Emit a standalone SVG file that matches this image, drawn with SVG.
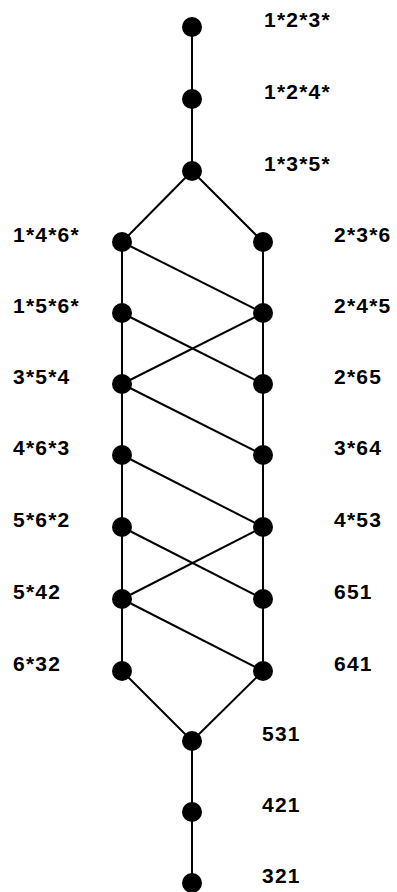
<svg xmlns="http://www.w3.org/2000/svg" width="397" height="892" viewBox="0 0 397 892">
<style>
.e{stroke:#000;stroke-width:2;fill:none}
.n{fill:#000}
.t{font-family:"Liberation Sans",Arial,sans-serif;font-weight:bold;font-size:21px;letter-spacing:1.2px;fill:#000}
</style>
<rect width="397" height="892" fill="#fff"/>
<g id="connectors">
<line class="e" x1="192" y1="27" x2="192" y2="171"/>
<line class="e" x1="192" y1="171" x2="122" y2="242"/>
<line class="e" x1="192" y1="171" x2="263" y2="242"/>
<line class="e" x1="122" y1="242" x2="122" y2="671"/>
<line class="e" x1="263" y1="242" x2="263" y2="671"/>
<line class="e" x1="122" y1="242" x2="263" y2="313"/>
<line class="e" x1="122" y1="313" x2="263" y2="384"/>
<line class="e" x1="263" y1="313" x2="122" y2="384"/>
<line class="e" x1="122" y1="384" x2="263" y2="455"/>
<line class="e" x1="122" y1="455" x2="263" y2="527"/>
<line class="e" x1="122" y1="527" x2="263" y2="599"/>
<line class="e" x1="263" y1="527" x2="122" y2="599"/>
<line class="e" x1="122" y1="599" x2="263" y2="671"/>
<line class="e" x1="122" y1="671" x2="192" y2="741"/>
<line class="e" x1="263" y1="671" x2="192" y2="741"/>
<line class="e" x1="192" y1="741" x2="192" y2="883"/>
</g>
<g id="n123"><circle class="n" cx="192" cy="27" r="10"/><text class="t" x="264" y="27">1*2*3*</text></g>
<g id="n124"><circle class="n" cx="192" cy="99" r="10"/><text class="t" x="264" y="99">1*2*4*</text></g>
<g id="n135"><circle class="n" cx="192" cy="171" r="10"/><text class="t" x="264" y="171">1*3*5*</text></g>
<g id="n146"><circle class="n" cx="122" cy="242" r="10"/><text class="t" x="13" y="242">1*4*6*</text></g>
<g id="n236"><circle class="n" cx="263" cy="242" r="10"/><text class="t" x="334" y="242">2*3*6</text></g>
<g id="n156"><circle class="n" cx="122" cy="313" r="10"/><text class="t" x="13" y="313">1*5*6*</text></g>
<g id="n245"><circle class="n" cx="263" cy="313" r="10"/><text class="t" x="334" y="313">2*4*5</text></g>
<g id="n354"><circle class="n" cx="122" cy="384" r="10"/><text class="t" x="13" y="384">3*5*4</text></g>
<g id="n265"><circle class="n" cx="263" cy="384" r="10"/><text class="t" x="334" y="384">2*65</text></g>
<g id="n463"><circle class="n" cx="122" cy="455" r="10"/><text class="t" x="13" y="455">4*6*3</text></g>
<g id="n364"><circle class="n" cx="263" cy="455" r="10"/><text class="t" x="334" y="455">3*64</text></g>
<g id="n562"><circle class="n" cx="122" cy="527" r="10"/><text class="t" x="13" y="527">5*6*2</text></g>
<g id="n453"><circle class="n" cx="263" cy="527" r="10"/><text class="t" x="334" y="527">4*53</text></g>
<g id="n542"><circle class="n" cx="122" cy="599" r="10"/><text class="t" x="13" y="599">5*42</text></g>
<g id="n651"><circle class="n" cx="263" cy="599" r="10"/><text class="t" x="334" y="599">651</text></g>
<g id="n632"><circle class="n" cx="122" cy="671" r="10"/><text class="t" x="13" y="671">6*32</text></g>
<g id="n641"><circle class="n" cx="263" cy="671" r="10"/><text class="t" x="334" y="671">641</text></g>
<g id="n531"><circle class="n" cx="192" cy="741" r="10"/><text class="t" x="262" y="741">531</text></g>
<g id="n421"><circle class="n" cx="192" cy="812" r="10"/><text class="t" x="262" y="812">421</text></g>
<g id="n321"><circle class="n" cx="192" cy="883" r="10"/><text class="t" x="262" y="883">321</text></g>
</svg>
